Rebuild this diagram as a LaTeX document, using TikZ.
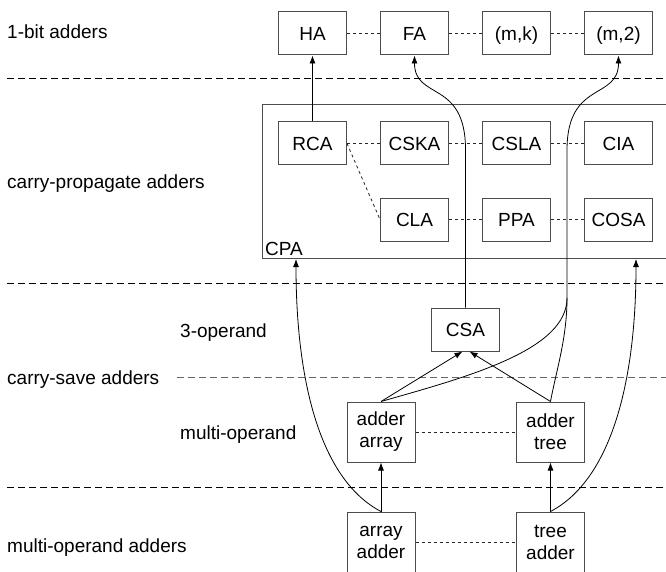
\documentclass[tikz,border=0pt]{standalone}
\usepackage{fontspec}
\setmainfont{Liberation Sans}
\usetikzlibrary{arrows.meta}
\begin{document}
\begin{tikzpicture}[x=1pt,y=-1pt,
  every node/.style={font=\fontsize{19}{22}\selectfont},
  box/.style={draw=black!70, line width=1pt, minimum width=68pt, minimum height=43pt,
              inner sep=0pt, text height=13.6pt, text depth=0pt},
  tallbox/.style={draw=black!70, line width=1pt, minimum width=68pt, minimum height=60pt,
              inner sep=0pt, align=center},
  link/.style={black!85, line width=0.8pt, dash pattern=on 3pt off 3pt},
  level/.style={line width=1pt, dash pattern=on 7pt off 4pt},
  arr/.style={line width=0.8pt, -{Latex[length=8pt,width=6pt]}},
  lab/.style={anchor=base west, inner sep=0pt}
]
\useasboundingbox (0,0) rectangle (666,572);

% level separators
\draw[level] (7,79) -- (666,79);
\draw[level] (7,283) -- (666,283);
\draw[level, black!60] (177,377) -- (666,377);
\draw[level] (7,487) -- (666,487);

% level labels
\node[lab] (l1) at (7,39) {1-bit adders};
\node[lab] (l2) at (7,189) {carry-propagate adders};
\node[lab] (l3) at (7,384) {carry-save adders};
\node[lab] (l4) at (7,552) {multi-operand adders};
\node[lab] (l3a) at (180,337) {3-operand};
\node[lab] (l3b) at (180,439) {multi-operand};

% carry-propagate adder group
\node[draw=black!70, line width=1pt, minimum width=406pt, minimum height=154pt,
      anchor=north west, inner sep=0pt] (cpa) at (262,104) {};
\node[anchor=base west, inner sep=0pt] (cpalab) at (265,255) {CPA};

% 1-bit adders
\node[box] (ha) at (312.5,33.5) {HA};
\node[box] (fa) at (414.5,33.5) {FA};
\node[box] (mk) at (516.5,33.5) {(m,k)};
\node[box] (m2) at (618.5,33.5) {(m,2)};

% carry-propagate adders
\node[box] (rca)  at (312.5,143.5) {RCA};
\node[box] (cska) at (414.5,143.5) {CSKA};
\node[box] (csla) at (516.5,143.5) {CSLA};
\node[box] (cia)  at (618.5,143.5) {CIA};
\node[box] (cla)  at (414.5,219.5) {CLA};
\node[box] (ppa)  at (516.5,219.5) {PPA};
\node[box] (cosa) at (618.5,219.5) {COSA};

% carry-save adders
\node[box] (csa) at (465.5,329.5) {CSA};
\node[tallbox] (aarr)  at (381,432) {adder\\array};
\node[tallbox] (atree) at (550.5,432) {adder\\tree};

% multi-operand adders
\node[tallbox] (aadd) at (381,542) {array\\adder};
\node[tallbox] (tadd) at (550.5,542) {tree\\adder};

% relations
\draw[link] (ha) -- (fa);
\draw[link] (fa) -- (mk);
\draw[link] (mk) -- (m2);
\draw[link] (rca) -- (cska);
\draw[link] (cska) -- (csla);
\draw[link] (csla) -- (cia);
\draw[link] (cla) -- (ppa);
\draw[link] (ppa) -- (cosa);
\draw[link] (rca.east) -- (cla.west);
\draw[link] (aarr) -- (atree);
\draw[link] (aadd) -- (tadd);

% derivations
\draw[arr] (rca.north) -- (ha.south);
\draw[arr] (csa.north) -- ++(0,-158) .. controls +(0,-70) and +(0,45) .. (fa.south);
\coordinate (trunk) at (567,298);
\draw[arr] (aarr.north) .. controls +(88,-25) and +(0,52) .. (trunk)
           -- ++(0,-148) .. controls +(0,-70) and +(0,45) .. (m2.south);
\draw[line width=0.8pt] (atree.north) .. controls +(6,-32) and +(0,40) .. (trunk);
\draw[arr] (aarr.north) -- ([xshift=-3pt]csa.south);
\draw[arr] (atree.north) -- ([xshift=4pt]csa.south);
\draw[arr] (aadd.north) -- (aarr.south);
\draw[arr] (tadd.north) -- (atree.south);
\draw[arr] (aadd.north) .. controls +(-61,-32) and +(0,122) .. ([xshift=34pt]cpa.south west);
\draw[arr] (tadd.north) .. controls +(61,-32) and +(0,122) .. ([xshift=374pt]cpa.south west);
\end{tikzpicture}
\end{document}
